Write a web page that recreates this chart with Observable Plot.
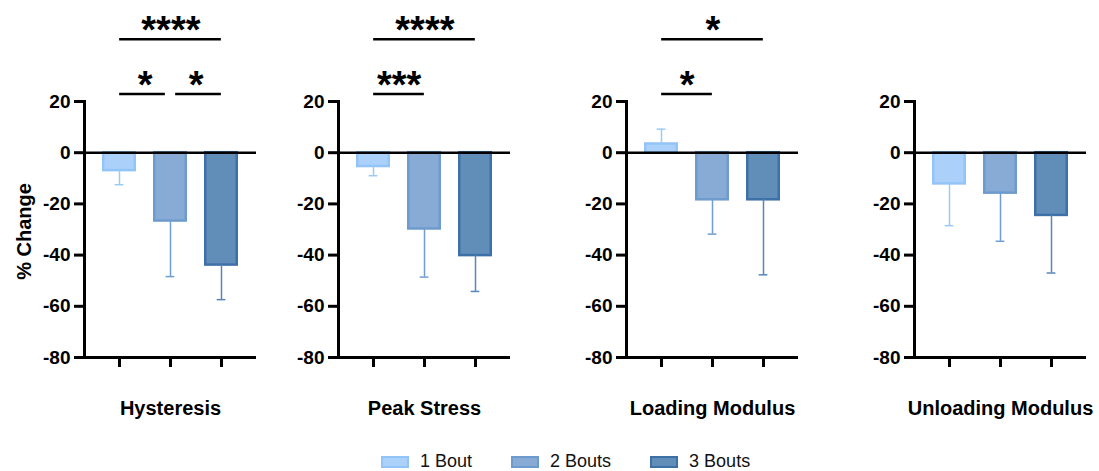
<!DOCTYPE html>
<html><head><meta charset="utf-8">
<script src="https://cdn.jsdelivr.net/npm/d3@7"></script>
<script src="https://cdn.jsdelivr.net/npm/@observablehq/plot@0.6"></script>
<style>
html,body{margin:0;padding:0;background:#fff;}
#chart{position:relative;width:1099px;height:471px;overflow:hidden;font-family:"Liberation Sans",Arial,sans-serif;}
#chart svg.panel{position:absolute;top:0;}
#legend{position:absolute;top:451px;left:382px;}
#legend .lg-swatches{margin:0;min-height:0;}
#legend .lg-swatch{margin-right:40px;font-size:18px;color:#111;font-family:"Liberation Sans",Arial,sans-serif;}
#legend .lg-swatch > svg{margin-right:12px;}
</style></head><body><div id="chart"><div id="legend"></div></div>
<script>
// ---- data ----
const groups = ["1 Bout", "2 Bouts", "3 Bouts"];
const measures = ["Hysteresis", "Peak Stress", "Loading Modulus", "Unloading Modulus"];
const meanValues = [
  [-7.0, -26.7, -43.9],
  [-5.4, -29.8, -40.2],
  [3.4, -18.4, -18.4],
  [-12.2, -15.8, -24.5]
];
const errorValues = [
  [5.5, 21.7, 13.5],
  [3.6, 18.8, 14.0],
  [5.8, 13.4, 29.3],
  [16.3, 18.8, 22.5]
];
const yTicks = [20, 0, -20, -40, -60, -80];
const yLabel = "% Change";
const comparisonMeasure = ["Hysteresis", "Hysteresis", "Hysteresis", "Peak Stress", "Peak Stress", "Loading Modulus", "Loading Modulus"];
const comparisonFrom = ["1 Bout", "2 Bouts", "1 Bout", "1 Bout", "1 Bout", "1 Bout", "1 Bout"];
const comparisonTo = ["2 Bouts", "3 Bouts", "3 Bouts", "2 Bouts", "3 Bouts", "2 Bouts", "3 Bouts"];
const comparisonStars = ["*", "*", "****", "***", "****", "*", "*"];
const comparisonTier = [0, 0, 1, 0, 1, 0, 1];

// ---- style ----
const fillColors = ["#abd1fa", "#88abd5", "#618db9"];
const strokeColors = ["#93c4f7", "#6e9bcd", "#3e70a8"];
const errorColors = ["#9ccaf6", "#6f9cd1", "#5585bd"];
const axisPositions = [84, 338, 626, 914];
const marginLeft = 84, frameWidth = 172, marginRight = 12;
const H = 440, marginTop = 101, marginBottom = 83;
const padInner = 0.333, padOuter = 0.34;
const step = frameWidth / (groups.length - padInner + 2 * padOuter);
const bw = step * (1 - padInner);
const tierValues = [22.9, 44.3];
const font = "'Liberation Sans', Arial, sans-serif";

const chart = document.getElementById("chart");

measures.forEach((measure, k) => {
  const rows = groups.map((g, i) => ({group: g, mean: meanValues[k][i], err: errorValues[k][i], i}));
  const endOf = d => d.mean + (d.mean >= 0 ? 1 : -1) * d.err;
  const comps = comparisonMeasure.map((m, j) => j).filter(j => comparisonMeasure[j] === measure);
  const bracketMarks = comps.flatMap(j => {
    const a = groups.indexOf(comparisonFrom[j]), b = groups.indexOf(comparisonTo[j]);
    const shareL = comps.some(o => o !== j && comparisonTier[o] === comparisonTier[j] && groups.indexOf(comparisonTo[o]) === a);
    const shareR = comps.some(o => o !== j && comparisonTier[o] === comparisonTier[j] && groups.indexOf(comparisonFrom[o]) === b);
    const yv = tierValues[comparisonTier[j]];
    return [
      Plot.ruleY([j], {y: () => yv, x1: () => comparisonFrom[j], x2: () => comparisonTo[j],
        insetLeft: bw / 2 + (shareL ? 5 : 0), insetRight: bw / 2 + (shareR ? 5 : 0), strokeWidth: 2.5, stroke: "black"}),
      Plot.text([comparisonStars[j]], {x: () => comparisonFrom[j], y: () => yv, dx: (b - a) * step / 2, dy: 4,
        lineAnchor: "bottom", fontSize: 38, fontWeight: "bold", fill: "black", text: d => d})
    ];
  });
  const marks = [
    Plot.barY(rows, {x: "group", y: "mean", fill: d => fillColors[d.i], stroke: d => strokeColors[d.i],
      strokeWidth: 2.5, insetLeft: 1.25, insetRight: 1.25}),
    Plot.ruleX(rows, {x: "group", y1: "mean", y2: endOf, stroke: d => errorColors[d.i], strokeWidth: 1.5}),
    Plot.tickY(rows, {x: "group", y: endOf, stroke: d => errorColors[d.i], strokeWidth: 1.5, insetLeft: bw / 2 - 4.5, insetRight: bw / 2 - 4.5}),
    Plot.ruleY([0], {stroke: "black", strokeWidth: 2.5}),
    Plot.ruleY([-80], {stroke: "black", strokeWidth: 3}),
    Plot.frame({anchor: "left", stroke: "black", strokeWidth: 3}),
    Plot.axisY({ticks: yTicks, tickSize: 10, tickPadding: 4, strokeWidth: 3, stroke: "black", fill: "black",
      fontSize: 19, fontWeight: "bold", label: null, tickFormat: d => String(d)}),
    Plot.axisX({tickSize: 10, strokeWidth: 3, stroke: "black", tickFormat: () => "", label: null}),
    Plot.text([measure], {x: () => groups[1], frameAnchor: "bottom", dy: 57, fontSize: 20, fontWeight: "bold", fill: "black", text: d => d}),
    ...bracketMarks
  ];
  if (k === 0) marks.push(Plot.text([yLabel], {y: () => -30, frameAnchor: "left", textAnchor: "middle", dx: -60, dy: 2, rotate: -90,
    fontSize: 20, fontWeight: "bold", fill: "black", text: d => d}));
  const svg = Plot.plot({
    width: marginLeft + frameWidth + marginRight, height: H,
    marginLeft, marginRight, marginTop, marginBottom,
    style: {fontFamily: font, color: "black", background: "transparent", overflow: "visible"},
    x: {type: "band", domain: groups, paddingInner: padInner, paddingOuter: padOuter, axis: null},
    y: {domain: [-80, 20], axis: null},
    marks
  });
  svg.classList.add("panel");
  svg.style.left = (axisPositions[k] - marginLeft) + "px";
  svg.style.position = "absolute";
  svg.style.top = "0px";
  chart.appendChild(svg);
});

const legend = Plot.legend({
  color: {type: "ordinal", domain: groups, range: fillColors},
  swatchWidth: 26, swatchHeight: 10, className: "lg",
  style: {fontFamily: font, fontSize: "18px", color: "#111"}
});
legend.querySelectorAll("svg").forEach((s, i) => {
  s.querySelectorAll("rect").forEach(r => { r.setAttribute("stroke", strokeColors[i]); r.setAttribute("stroke-width", 2); });
});
document.getElementById("legend").appendChild(legend);
</script></body></html>
